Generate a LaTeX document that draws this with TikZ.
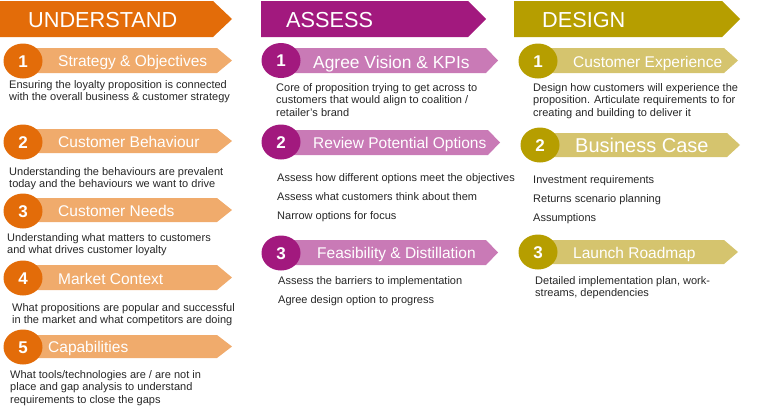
\documentclass[tikz,border=0pt]{standalone}
\usepackage{fontspec}
\setmainfont{Liberation Sans}
\usepackage{tikz}
\usetikzlibrary{shapes.geometric}
\usepackage{xcolor}
\definecolor{uDark}{HTML}{E36C09}
\definecolor{uLight}{HTML}{F0AB6C}
\definecolor{aDark}{HTML}{A2197E}
\definecolor{aLight}{HTML}{C97AB6}
\definecolor{dDark}{HTML}{B69E00}
\definecolor{dLight}{HTML}{D5C46E}
\definecolor{txt}{HTML}{262626}

\begin{document}
\begin{tikzpicture}[x=1pt,y=-1pt,
    hdr/.style={font=\fontsize{21.7}{24}\selectfont,text=white,anchor=base west,inner sep=0pt},
    num/.style={ellipse,minimum width=39pt,minimum height=35pt,inner sep=0pt,
                text=white,text height=12.2pt,text depth=0pt,font=\fontsize{17}{19}\selectfont\bfseries},
    lbl/.style={font=\fontsize{15.5}{18}\selectfont,text=white,anchor=base west,inner sep=0pt},
    desc/.style={font=\fontsize{11}{12.5}\selectfont,text=txt,anchor=north west,align=left,inner sep=0pt},
    list/.style={desc,font=\fontsize{11}{19}\selectfont}]
  \useasboundingbox (0,0) rectangle (773,413);

  % headers --------------------------------------------------------------------
  \fill[uDark] (0,1) -- (213,1) -- (232,19) -- (213,37) -- (0,37) -- cycle;
  \node[hdr] (uhead) at (28,27) {UNDERSTAND};
  \fill[aDark] (261,1) -- (468,1) -- (486,19) -- (468,37) -- (261,37) -- cycle;
  \node[hdr] (ahead) at (286,27) {ASSESS};
  \fill[dDark] (514,1) -- (722,1) -- (740,19) -- (722,37) -- (514,37) -- cycle;
  \node[hdr] (dhead) at (542,27) {DESIGN};

  %----------------------------------------------------------------------------%
  %  understand  --------------------------------------------------------------%
  \fill[uLight] (23,48) -- (217,48) -- (232,60.5) -- (217,73) -- (23,73) -- cycle;
  \node[num,fill=uDark] (u1) at (23,61) {1};
  \node[lbl] (u1t) at (58,66.5) {Strategy \& Objectives};
  \node[desc] (u1d) at (9,80) {Ensuring the loyalty proposition is connected\\
        with the overall business \& customer strategy};

  \fill[uLight] (23,129) -- (217,129) -- (232,141) -- (217,153) -- (23,153) -- cycle;
  \node[num,fill=uDark] (u2) at (23,142) {2};
  \node[lbl] (u2t) at (58,147.5) {Customer Behaviour};
  \node[desc] (u2d) at (9,167) {Understanding the behaviours are prevalent\\
        today and the behaviours we want to drive};

  \fill[uLight] (23,198) -- (217,198) -- (232,210) -- (217,222) -- (23,222) -- cycle;
  \node[num,fill=uDark] (u3) at (23,211) {3};
  \node[lbl] (u3t) at (58,216.5) {Customer Needs};
  \node[desc] (u3d) at (7,233) {Understanding what matters to customers\\
        and what drives customer loyalty};

  \fill[uLight] (23,265) -- (217,265) -- (232,277.5) -- (217,290) -- (23,290) -- cycle;
  \node[num,fill=uDark] (u4) at (23,278) {4};
  \node[lbl] (u4t) at (58,284) {Market Context};
  \node[desc] (u4d) at (12,303) {What propositions are popular and successful\\
        in the market and what competitors are doing};

  \fill[uLight] (23,335) -- (217,335) -- (232,346.5) -- (217,358) -- (23,358) -- cycle;
  \node[num,fill=uDark] (u5) at (23,347) {5};
  \node[lbl] (u5t) at (48,352.5) {Capabilities};
  \node[desc] (u5d) at (10,370) {What tools/technologies are / are not in\\
        place and gap analysis to understand\\
        requirements to close the gaps};

  %----------------------------------------------------------------------------%
  %  assess  ------------------------------------------------------------------%
  \fill[aLight] (281,48) -- (486,48) -- (498,60.5) -- (486,73) -- (281,73) -- cycle;
  \node[num,fill=aDark] (a1) at (281,60.5) {1};
  \node[lbl,font=\fontsize{17.4}{20}\selectfont] (a1t) at (313,68) {Agree Vision \& KPIs};
  \node[desc] (a1d) at (276,83) {Core of proposition trying to get across to\\
        customers that would align to coalition /\\
        retailer's brand};

  \fill[aLight] (281,130) -- (488,130) -- (500,142.5) -- (488,155) -- (281,155) -- cycle;
  \node[num,fill=aDark] (a2) at (281,142) {2};
  \node[lbl] (a2t) at (313,148.5) {Review Potential Options};
  \node[list] (a2d) at (277,173) {Assess how different options meet the objectives\\
        Assess what customers think about them\\
        Narrow options for focus};

  \fill[aLight] (281,240) -- (486,240) -- (498,252.5) -- (486,265) -- (281,265) -- cycle;
  \node[num,fill=aDark] (a3) at (281,253) {3};
  \node[lbl] (a3t) at (317,258.5) {Feasibility \& Distillation};
  \node[list] (a3d) at (278,276) {Assess the barriers to implementation\\
        Agree design option to progress};

  %----------------------------------------------------------------------------%
  %  design  ------------------------------------------------------------------%
  \fill[dLight] (538,48) -- (724,48) -- (738,60.5) -- (724,73) -- (538,73) -- cycle;
  \node[num,fill=dDark] (d1) at (538,61) {1};
  \node[lbl] (d1t) at (573,67.5) {Customer Experience};
  \node[desc] (d1d) at (533,83) {Design how customers will experience the\\
        proposition. Articulate requirements to for\\
        creating and building  to deliver it};

  \fill[dLight] (540,133) -- (727,133) -- (740,145) -- (727,157) -- (540,157) -- cycle;
  \node[num,fill=dDark] (d2) at (540,145) {2};
  \node[lbl,font=\fontsize{20}{23}\selectfont] (d2t) at (575,152) {Business Case};
  \node[list] (d2d) at (533,175) {Investment requirements\\
        Returns scenario planning\\
        Assumptions};

  \fill[dLight] (538,240) -- (724,240) -- (738,252) -- (724,264) -- (538,264) -- cycle;
  \node[num,fill=dDark] (d3) at (538,252) {3};
  \node[lbl] (d3t) at (573,258.5) {Launch Roadmap};
  \node[desc] (d3d) at (535,276) {Detailed implementation plan, work-\\
        streams, dependencies};
\end{tikzpicture}
\end{document}
